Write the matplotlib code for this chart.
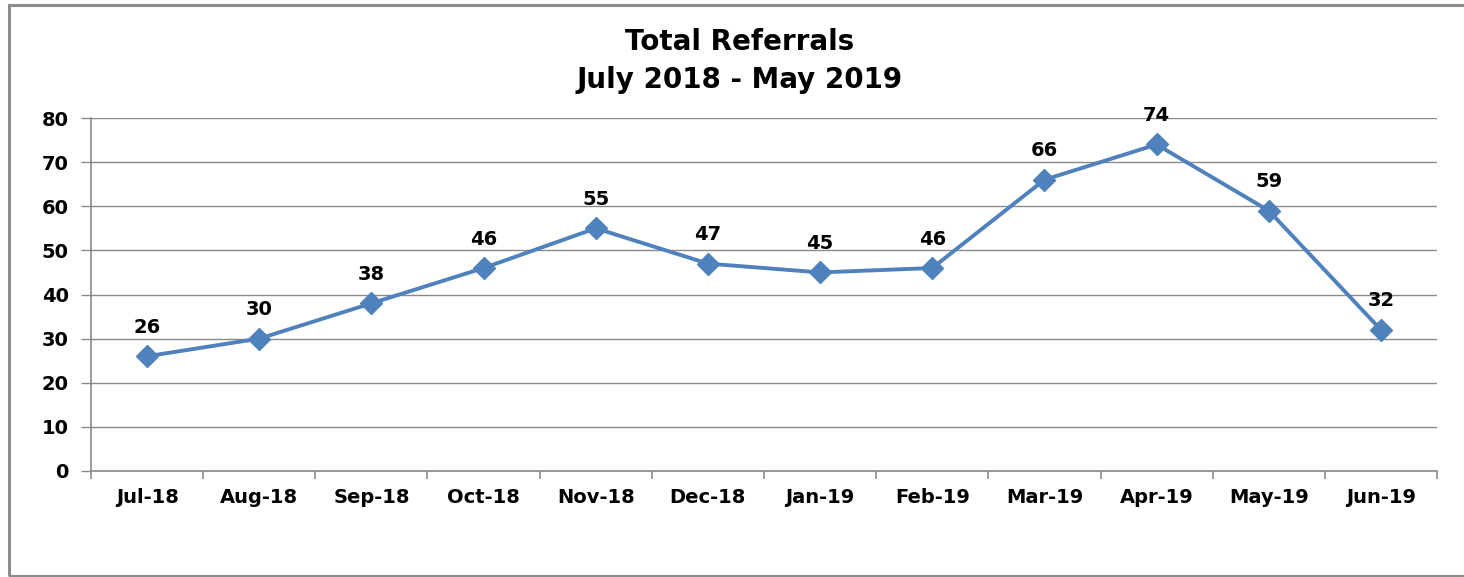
import matplotlib
matplotlib.use("Agg")
import matplotlib.pyplot as plt
from matplotlib.patches import Rectangle

months = ["Jul-18", "Aug-18", "Sep-18", "Oct-18", "Nov-18", "Dec-18",
          "Jan-19", "Feb-19", "Mar-19", "Apr-19", "May-19", "Jun-19"]
referrals = [26, 30, 38, 46, 55, 47, 45, 46, 66, 74, 59, 32]
yticks = [0, 10, 20, 30, 40, 50, 60, 70, 80]
title = "Total Referrals\nJuly 2018 - May 2019"

W, H = 1464, 577
fig = plt.figure(figsize=(W / 100, H / 100), dpi=100)
fig.patch.set_facecolor("white")

# outer border
fig.add_artist(Rectangle((9 / W, 1 / H), (W + 10) / W, (H - 6) / H,
                         transform=fig.transFigure, fill=False,
                         edgecolor="#8c8c8c", linewidth=2.2))

left, right, top, bottom = 91, 1437, 118, 471
ax = fig.add_axes([left / W, 1 - bottom / H, (right - left) / W, (bottom - top) / H])

color = "#4F81BD"
x = list(range(len(months)))
ax.plot(x, referrals, color=color, linewidth=2.8, marker="D", markersize=11,
        markerfacecolor=color, markeredgecolor=color, zorder=3, clip_on=False)

for xi, v in zip(x, referrals):
    ax.annotate(str(v), (xi, v), xytext=(0, 14), textcoords="offset points",
                ha="center", va="bottom", fontsize=14, fontweight="bold",
                color="black")

ax.set_xlim(-0.5, len(months) - 0.5)
ax.set_ylim(0, 80)
ax.set_yticks(yticks)
ax.set_yticklabels([str(t) for t in yticks], fontsize=14, fontweight="bold")
ax.yaxis.grid(True, color="#8a8a8a", linewidth=1.0)
ax.set_axisbelow(True)

ax.set_xticks(x)
ax.set_xticklabels(months, fontsize=14, fontweight="bold")
ax.tick_params(axis="x", length=0, pad=12)
ax.set_xticks([i - 0.5 for i in range(len(months) + 1)], minor=True)
ax.tick_params(axis="x", which="minor", length=6, color="#8a8a8a", width=1.2)
ax.tick_params(axis="y", length=7, color="#8a8a8a", width=1.0, pad=9)

for s in ["top", "right"]:
    ax.spines[s].set_visible(False)
for s in ["left", "bottom"]:
    ax.spines[s].set_color("#8a8a8a")
    ax.spines[s].set_linewidth(1.2)

fig.text((625 + 855) / 2 / W, 1 - 61 / H, title, ha="center", va="center",
         fontsize=20, fontweight="bold", linespacing=1.45)

fig.savefig("out.png", dpi=100)
